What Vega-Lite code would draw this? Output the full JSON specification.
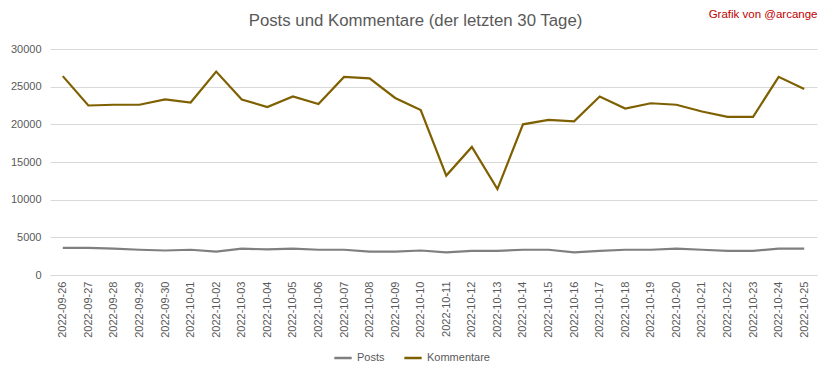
{
  "$schema": "https://vega.github.io/schema/vega-lite/v6.json",
  "autosize": {"type": "none"},
  "width": 767,
  "height": 226,
  "padding": {"left": 50, "top": 49, "right": 15, "bottom": 103},
  "background": "white",
  "config": {
    "font": "Liberation Sans",
    "view": {"stroke": null},
    "axis": {"labelFont": "Liberation Sans", "labelColor": "#595959", "labelFontSize": 11}
  },
  "title": {
    "text": "Posts und Kommentare (der letzten 30 Tage)",
    "anchor": "middle",
    "frame": "group",
    "dx": -18,
    "offset": -22,
    "fontSize": 16.8,
    "fontWeight": "normal",
    "font": "Liberation Sans",
    "color": "#595959"
  },
  "data": {
    "values": [
      {"date": "2022-09-26", "series": "Posts", "value": 3600},
      {"date": "2022-09-27", "series": "Posts", "value": 3600},
      {"date": "2022-09-28", "series": "Posts", "value": 3500},
      {"date": "2022-09-29", "series": "Posts", "value": 3350},
      {"date": "2022-09-30", "series": "Posts", "value": 3250},
      {"date": "2022-10-01", "series": "Posts", "value": 3350},
      {"date": "2022-10-02", "series": "Posts", "value": 3100},
      {"date": "2022-10-03", "series": "Posts", "value": 3500},
      {"date": "2022-10-04", "series": "Posts", "value": 3400},
      {"date": "2022-10-05", "series": "Posts", "value": 3500},
      {"date": "2022-10-06", "series": "Posts", "value": 3350},
      {"date": "2022-10-07", "series": "Posts", "value": 3350},
      {"date": "2022-10-08", "series": "Posts", "value": 3100},
      {"date": "2022-10-09", "series": "Posts", "value": 3100},
      {"date": "2022-10-10", "series": "Posts", "value": 3250},
      {"date": "2022-10-11", "series": "Posts", "value": 3000},
      {"date": "2022-10-12", "series": "Posts", "value": 3200},
      {"date": "2022-10-13", "series": "Posts", "value": 3200},
      {"date": "2022-10-14", "series": "Posts", "value": 3350},
      {"date": "2022-10-15", "series": "Posts", "value": 3350},
      {"date": "2022-10-16", "series": "Posts", "value": 3000},
      {"date": "2022-10-17", "series": "Posts", "value": 3200},
      {"date": "2022-10-18", "series": "Posts", "value": 3350},
      {"date": "2022-10-19", "series": "Posts", "value": 3350},
      {"date": "2022-10-20", "series": "Posts", "value": 3500},
      {"date": "2022-10-21", "series": "Posts", "value": 3350},
      {"date": "2022-10-22", "series": "Posts", "value": 3200},
      {"date": "2022-10-23", "series": "Posts", "value": 3200},
      {"date": "2022-10-24", "series": "Posts", "value": 3500},
      {"date": "2022-10-25", "series": "Posts", "value": 3500},
      {"date": "2022-09-26", "series": "Kommentare", "value": 26400},
      {"date": "2022-09-27", "series": "Kommentare", "value": 22500},
      {"date": "2022-09-28", "series": "Kommentare", "value": 22600},
      {"date": "2022-09-29", "series": "Kommentare", "value": 22600},
      {"date": "2022-09-30", "series": "Kommentare", "value": 23300},
      {"date": "2022-10-01", "series": "Kommentare", "value": 22900},
      {"date": "2022-10-02", "series": "Kommentare", "value": 27000},
      {"date": "2022-10-03", "series": "Kommentare", "value": 23300},
      {"date": "2022-10-04", "series": "Kommentare", "value": 22300},
      {"date": "2022-10-05", "series": "Kommentare", "value": 23700},
      {"date": "2022-10-06", "series": "Kommentare", "value": 22700},
      {"date": "2022-10-07", "series": "Kommentare", "value": 26300},
      {"date": "2022-10-08", "series": "Kommentare", "value": 26100},
      {"date": "2022-10-09", "series": "Kommentare", "value": 23500},
      {"date": "2022-10-10", "series": "Kommentare", "value": 21900},
      {"date": "2022-10-11", "series": "Kommentare", "value": 13200},
      {"date": "2022-10-12", "series": "Kommentare", "value": 17000},
      {"date": "2022-10-13", "series": "Kommentare", "value": 11400},
      {"date": "2022-10-14", "series": "Kommentare", "value": 20000},
      {"date": "2022-10-15", "series": "Kommentare", "value": 20600},
      {"date": "2022-10-16", "series": "Kommentare", "value": 20400},
      {"date": "2022-10-17", "series": "Kommentare", "value": 23700},
      {"date": "2022-10-18", "series": "Kommentare", "value": 22100},
      {"date": "2022-10-19", "series": "Kommentare", "value": 22800},
      {"date": "2022-10-20", "series": "Kommentare", "value": 22600},
      {"date": "2022-10-21", "series": "Kommentare", "value": 21700},
      {"date": "2022-10-22", "series": "Kommentare", "value": 21000},
      {"date": "2022-10-23", "series": "Kommentare", "value": 21000},
      {"date": "2022-10-24", "series": "Kommentare", "value": 26300},
      {"date": "2022-10-25", "series": "Kommentare", "value": 24700}
    ]
  },
  "layer": [
    {
      "mark": {"type": "line", "strokeWidth": 2.2},
      "encoding": {
        "x": {
          "field": "date",
          "type": "ordinal",
          "scale": {"type": "point", "padding": 0.5},
          "axis": {
            "title": null,
            "labelAngle": -90,
            "labelPadding": 6,
            "ticks": false,
            "domainColor": "#d9d9d9",
            "grid": false
          }
        },
        "y": {
          "field": "value",
          "type": "quantitative",
          "scale": {"domain": [0, 30000], "nice": false},
          "axis": {
            "title": null,
            "values": [0, 5000, 10000, 15000, 20000, 25000, 30000],
            "format": "d",
            "ticks": false,
            "domain": false,
            "gridColor": "#d9d9d9",
            "labelPadding": 9,
            "labelOverlap": false
          }
        },
        "color": {
          "field": "series",
          "type": "nominal",
          "scale": {"domain": ["Posts", "Kommentare"], "range": ["#7f7f7f", "#7f6000"]},
          "legend": {
            "title": null,
            "orient": "none",
            "direction": "horizontal",
            "legendX": 283,
            "legendY": 299,
            "symbolType": "stroke",
            "symbolStrokeWidth": 2.5,
            "symbolSize": 300,
            "labelFont": "Liberation Sans",
            "labelFontSize": 11,
            "labelColor": "#595959",
            "columnPadding": 14
          }
        }
      }
    },
    {
      "mark": {"type": "line", "opacity": 0},
      "encoding": {
        "x": {
          "field": "date",
          "type": "ordinal",
          "scale": {"type": "point", "padding": 0.5},
          "axis": {
            "orient": "top",
            "title": "Grafik von @arcange",
            "titleAnchor": "end",
            "titleColor": "#c00000",
            "titleFont": "Liberation Sans",
            "titleFontSize": 11.5,
            "titleFontWeight": "normal",
            "titlePadding": 30,
            "labels": false,
            "ticks": false,
            "domain": false,
            "grid": false
          }
        },
        "y": {"field": "value", "type": "quantitative", "axis": null},
        "detail": {"field": "series"}
      }
    }
  ],
  "resolve": {"axis": {"x": "independent", "y": "independent"}}
}
